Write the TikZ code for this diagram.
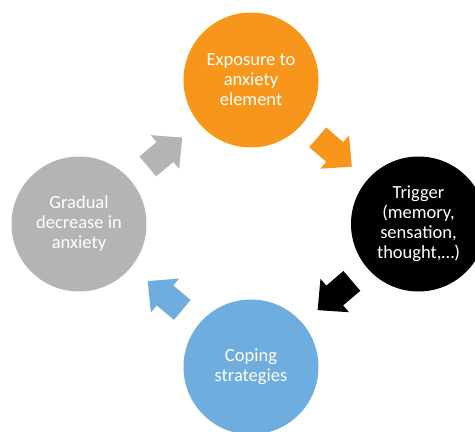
\documentclass[tikz,border=0pt]{standalone}
\usepackage{fontspec}
\setmainfont{Carlito}
\usetikzlibrary{calc}

\definecolor{stepOrange}{HTML}{F8961C}
\definecolor{stepBlack}{HTML}{000000}
\definecolor{stepBlue}{HTML}{6EADDE}
\definecolor{stepGray}{HTML}{B4B4B4}

\tikzset{
  stage/.style={circle, minimum size=135pt, inner sep=0pt, draw=none,
    text=white, align=center,
    font=\fontsize{18.5}{20}\selectfont},
  % block arrow pointing along +x, centred on the origin
  blockarrow/.pic={
    \fill[pic actions] (-22.5,-13) -- (0,-13) -- (0,-22) -- (22.5,0)
      -- (0,22) -- (0,13) -- (-22.5,13) -- cycle;
  }
}

\begin{document}
\begin{tikzpicture}[x=1pt, y=-1pt]
  \useasboundingbox (0,0) rectangle (475,432);
  \clip (0,0) rectangle (475,432);

  \node[stage, fill=stepOrange] (ex) at (251,80)    {Exposure to\\anxiety\\element};
  \node[stage, fill=stepBlack]  (tr) at (418.5,224) {Trigger\\(memory,\\sensation,\\thought,…)};
  \node[stage, fill=stepBlue]   (co) at (251,367)   {Coping\\strategies};
  \node[stage, fill=stepGray]   (gr) at (79,224)    {Gradual\\decrease in\\anxiety};

  % cycle arrows, each midway between two stages and aimed along their centre line
  \foreach \a/\b/\c in {ex/tr/stepOrange, tr/co/stepBlack, co/gr/stepBlue, gr/ex/stepGray}{
    \path let \p1 = ($(\b)-(\a)$), \n1 = {atan2(\y1,\x1)} in
      pic[rotate=\n1, fill=\c] at ($(\a)!0.5!(\b)$) {blockarrow};
  }
\end{tikzpicture}
\end{document}
